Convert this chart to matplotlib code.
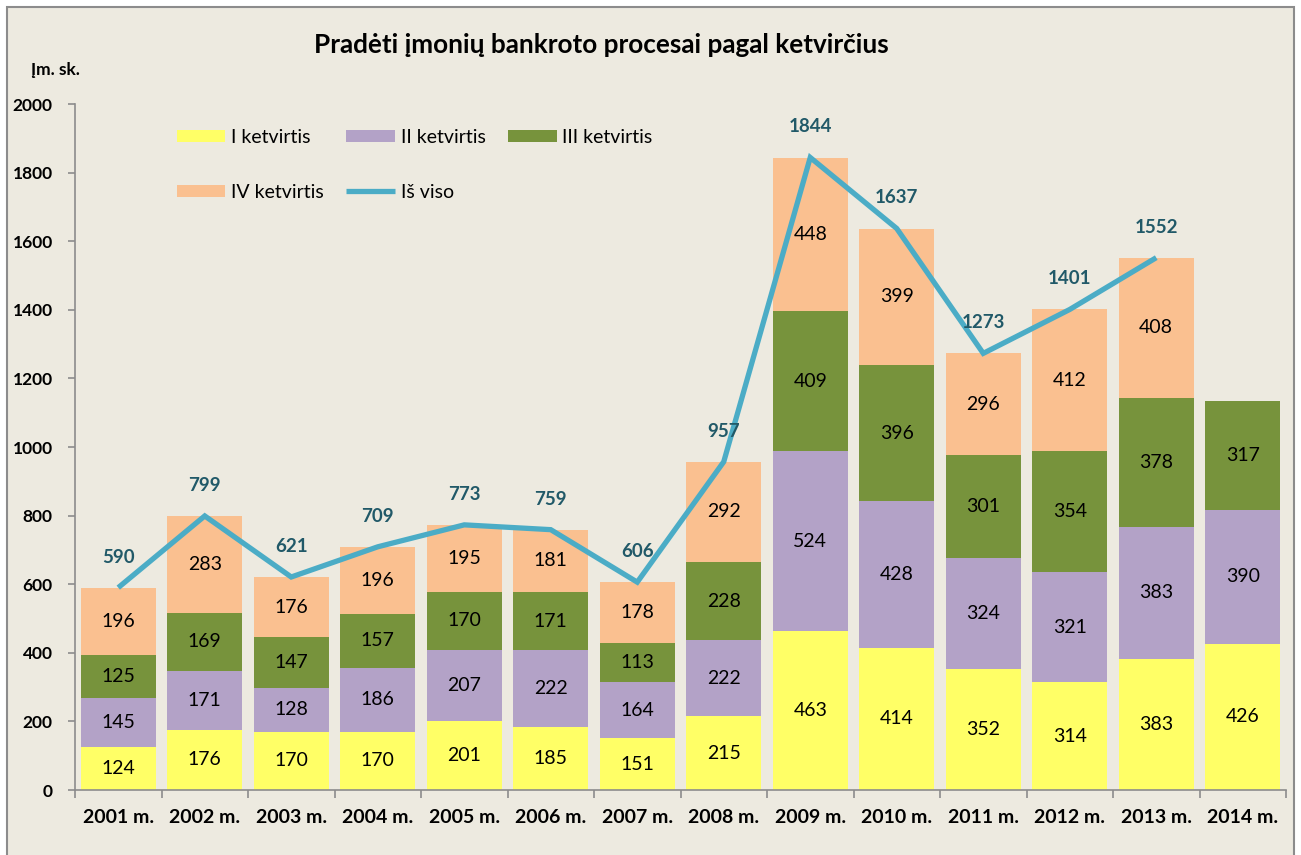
import matplotlib
matplotlib.use("Agg")
import matplotlib.pyplot as plt
from matplotlib.patches import Rectangle
import numpy as np

plt.rcParams['font.family'] = ['Lato', 'DejaVu Sans']

years = ["2001 m.", "2002 m.", "2003 m.", "2004 m.", "2005 m.", "2006 m.", "2007 m.",
         "2008 m.", "2009 m.", "2010 m.", "2011 m.", "2012 m.", "2013 m.", "2014 m."]
q1 = [124, 176, 170, 170, 201, 185, 151, 215, 463, 414, 352, 314, 383, 426]
q2 = [145, 171, 128, 186, 207, 222, 164, 222, 524, 428, 324, 321, 383, 390]
q3 = [125, 169, 147, 157, 170, 171, 113, 228, 409, 396, 301, 354, 378, 317]
q4 = [196, 283, 176, 196, 195, 181, 178, 292, 448, 399, 296, 412, 408, None]
total = [590, 799, 621, 709, 773, 759, 606, 957, 1844, 1637, 1273, 1401, 1552]

series_names = ["I ketvirtis", "II ketvirtis", "III ketvirtis", "IV ketvirtis"]
line_name = "Iš viso"
title = "Pradėti įmonių bankroto procesai pagal ketvirčius"
ylabel = "Įm. sk."
yticks = [0, 200, 400, 600, 800, 1000, 1200, 1400, 1600, 1800, 2000]

colors = ["#FFFF66", "#B3A2C7", "#77933C", "#FAC090"]
line_color = "#4BACC6"
total_color = "#215968"
bg = "#EDEAE0"

W, H = 1301, 855
fig = plt.figure(figsize=(W / 100, H / 100), dpi=100)
fig.patch.set_facecolor("white")
fig.patches.append(Rectangle((7 / W, -0.05), (1294 - 7) / W, 1.05 - 7 / H,
                             transform=fig.transFigure, facecolor=bg,
                             edgecolor="#8C8C8C", lw=1.5, zorder=-10))

ax = fig.add_axes([75 / W, (H - 790) / H, (1286 - 75) / W, (790 - 104) / H])
ax.set_facecolor("none")

x = np.arange(len(years))
bw = 0.87
bottom = np.zeros(len(years))
bars = []
for vals, c, name in zip([q1, q2, q3, q4], colors, series_names):
    v = np.array([np.nan if a is None else a for a in vals], dtype=float)
    vv = np.nan_to_num(v)
    b = ax.bar(x, vv, bw, bottom=bottom, color=c, label=name, zorder=2)
    bars.append(b)
    for xi, (bi, hi) in enumerate(zip(bottom, v)):
        if not np.isnan(hi):
            ax.text(xi, bi + hi / 2, f"{int(hi)}", ha="center", va="center",
                    fontsize=14, color="black", zorder=4)
    bottom = bottom + vv

xt = x[:len(total)]
ln, = ax.plot(xt, total, color=line_color, lw=3.8, label=line_name, zorder=3,
              solid_joinstyle="miter", solid_capstyle="butt")
for xi, t in zip(xt, total):
    ax.annotate(f"{t}", (xi, t), xytext=(0, 22), textcoords="offset points",
                ha="center", va="center", fontsize=13.5, fontweight="bold",
                color=total_color, zorder=5)

ax.set_xlim(-0.5, len(years) - 0.5)
ax.set_ylim(0, 2000)
ax.set_yticks(yticks)
ax.set_yticklabels([str(v) for v in yticks], fontsize=12.5, fontweight="bold")
ax.set_xticks(x)
ax.set_xticklabels(years, fontsize=14, fontweight="bold")
ax.set_xticks(np.arange(len(years) + 1) - 0.5, minor=True)
ax.tick_params(axis="x", which="major", length=0, pad=14)
ax.tick_params(axis="x", which="minor", length=6, color="#8C8C8C", width=1.2)
ax.tick_params(axis="y", length=5, color="#8C8C8C", width=1.2, pad=11)
for s in ["top", "right"]:
    ax.spines[s].set_visible(False)
for s in ["left", "bottom"]:
    ax.spines[s].set_color("#8C8C8C")
    ax.spines[s].set_linewidth(1.2)

handles = [bars[0], bars[3], bars[1], ln, bars[2]]
labels = [series_names[0], series_names[3], series_names[1], line_name, series_names[2]]
leg = ax.legend(handles, labels, ncol=3, loc="upper left",
                bbox_to_anchor=(94 / (1286 - 75), 1 - 17 / (790 - 104)),
                frameon=False, fontsize=14, handlelength=2.5, handleheight=0.6,
                handletextpad=0.3, columnspacing=1.15, labelspacing=1.95,
                borderaxespad=0)

fig.text(601 / W, 1 - 45 / H, title, ha="center", va="center",
         fontsize=18.8, fontweight="bold")
fig.text(55 / W, 1 - 70 / H, ylabel, ha="center", va="center",
         fontsize=12.5, fontweight="bold")

fig.savefig("out.png", dpi=100, facecolor=fig.get_facecolor())
